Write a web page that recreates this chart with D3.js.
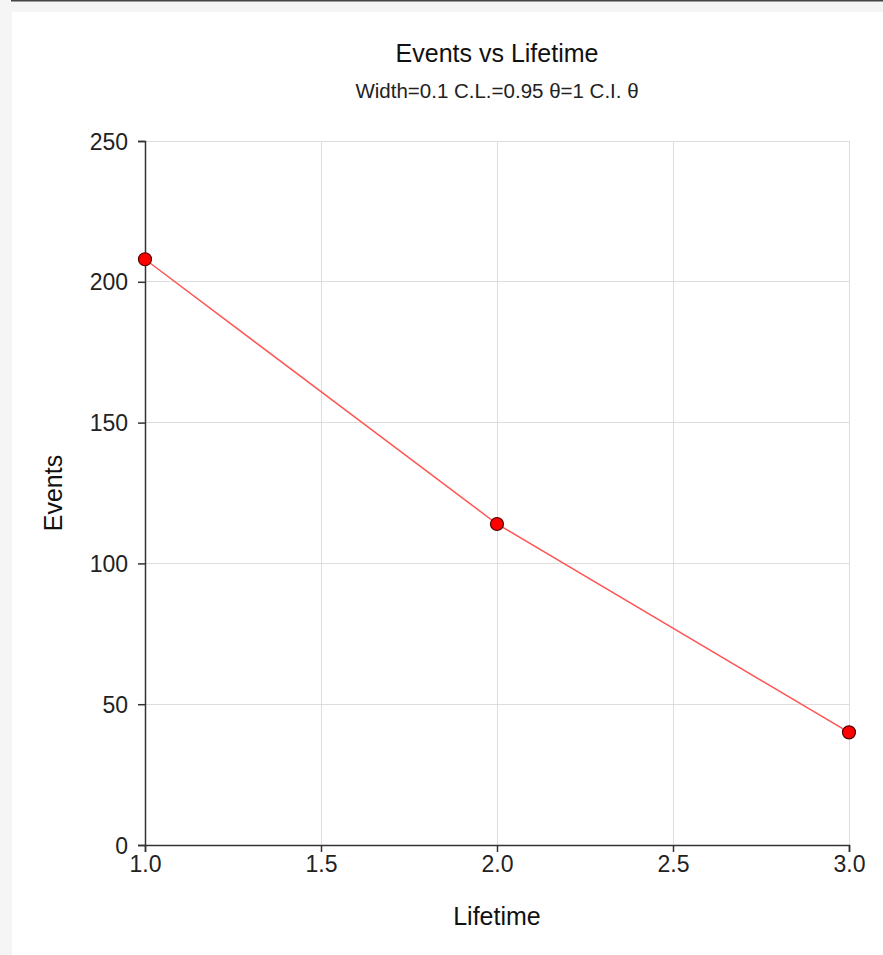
<!DOCTYPE html>
<html>
<head>
<meta charset="utf-8">
<script src="https://cdn.jsdelivr.net/npm/d3@7"></script>
<style>
  html, body { margin: 0; padding: 0; background: #f5f5f5; }
  svg { display: block; font-family: "Liberation Sans", Arial, sans-serif; }
</style>
</head>
<body>
<svg id="chart" width="883" height="955"></svg>
<script>
const lifetime = [1.0, 2.0, 3.0];
const events = [208, 114, 40];
const xTicks = [1.0, 1.5, 2.0, 2.5, 3.0];
const yTicks = [0, 50, 100, 150, 200, 250];
const titleText = "Events vs Lifetime";
const subtitleText = "Width=0.1 C.L.=0.95 \u03B8=1 C.I. \u03B8";
const xLabel = "Lifetime";
const yLabel = "Events";

const svg = d3.select("#chart");
const W = 883, H = 955;
const m = { left: 145, right: 34, top: 141, bottom: 110 };

svg.append("rect").attr("x", 0).attr("y", 0).attr("width", W).attr("height", H).attr("fill", "#f5f5f5");
svg.append("rect").attr("x", 12).attr("y", 12).attr("width", W - 12).attr("height", H - 12).attr("fill", "#ffffff");
svg.append("rect").attr("x", 11).attr("y", 0).attr("width", W - 11).attr("height", 1.5).attr("fill", "#444");

const x = d3.scaleLinear().domain([1, 3]).range([m.left, W - m.right]);
const y = d3.scaleLinear().domain([0, 250]).range([H - m.bottom, m.top]);

// grid
svg.append("g").selectAll("line").data(yTicks.filter(d => d > 0)).join("line")
  .attr("x1", x(1)).attr("x2", x(3)).attr("y1", d => y(d)).attr("y2", d => y(d))
  .attr("stroke", "#dddddd").attr("stroke-width", 1).attr("shape-rendering", "crispEdges");
svg.append("g").selectAll("line").data(xTicks.filter(d => d > 1)).join("line")
  .attr("x1", d => x(d)).attr("x2", d => x(d)).attr("y1", y(0)).attr("y2", y(250))
  .attr("stroke", "#dddddd").attr("stroke-width", 1).attr("shape-rendering", "crispEdges");

// axes
const xAxis = svg.append("g").attr("transform", `translate(0,${y(0)})`)
  .call(d3.axisBottom(x).tickValues(xTicks).tickFormat(d3.format(".1f")).tickSize(7).tickPadding(4));
const yAxis = svg.append("g").attr("transform", `translate(${x(1)},0)`)
  .call(d3.axisLeft(y).tickValues(yTicks).tickSize(7).tickPadding(10));
[xAxis, yAxis].forEach(a => {
  a.select(".domain").attr("stroke", "#333").attr("stroke-width", 1.5);
  a.selectAll(".tick line").attr("stroke", "#333").attr("stroke-width", 1.5);
  a.selectAll("text").attr("fill", "#222").style("font-size", "23px")
    .style("font-family", '"Liberation Sans", Arial, sans-serif');
});
yAxis.selectAll("text").attr("dy", "0.35em");

// line
const line = d3.line().x((d, i) => x(lifetime[i])).y(d => y(d));
svg.append("path").datum(events).attr("d", line)
  .attr("fill", "none").attr("stroke", "#ff5555").attr("stroke-width", 1.5);

svg.append("g").selectAll("circle").data(events).join("circle")
  .attr("cx", (d, i) => x(lifetime[i])).attr("cy", d => y(d)).attr("r", 6.5)
  .attr("fill", "#ff0000").attr("stroke", "#550000").attr("stroke-width", 1.2);

// titles
svg.append("text").attr("x", (x(1) + x(3)) / 2).attr("y", 61.5).attr("text-anchor", "middle")
  .style("font-size", "25px").attr("fill", "#111").text(titleText);
svg.append("text").attr("x", (x(1) + x(3)) / 2).attr("y", 98).attr("text-anchor", "middle")
  .style("font-size", "20.5px").attr("fill", "#222").text(subtitleText);
svg.append("text").attr("x", (x(1) + x(3)) / 2).attr("y", 925).attr("text-anchor", "middle")
  .style("font-size", "25px").attr("fill", "#111").text(xLabel);
svg.append("text").attr("transform", `translate(62,${(y(0) + y(250)) / 2}) rotate(-90)`)
  .attr("text-anchor", "middle").style("font-size", "25px").attr("fill", "#111").text(yLabel);
</script>
</body>
</html>
